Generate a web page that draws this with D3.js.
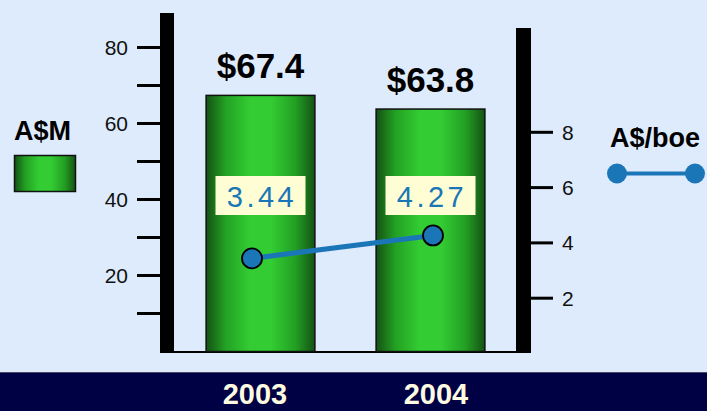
<!DOCTYPE html>
<html>
<head>
<meta charset="utf-8">
<script src="https://cdn.jsdelivr.net/npm/d3@7"></script>
<style>
  html, body { margin: 0; padding: 0; background: #deebfc; }
  svg { display: block; font-family: Arial, "Liberation Sans", Helvetica, sans-serif; }
</style>
</head>
<body>
<svg id="chart" width="707" height="411"></svg>
<script>
// Annual figures
const years = ["2003", "2004"];
const amountAUDm = [67.4, 63.8];          // A$M (bars, left axis)
const perBoe = [3.44, 4.27];              // A$/boe (line, right axis)
const leftTicks = [10, 20, 30, 40, 50, 60, 70, 80];
const leftTickLabels = [20, 40, 60, 80];
const rightTicks = [2, 4, 6, 8];

const svg = d3.select("#chart");
const W = 707, H = 411;

// Scales
const x = d3.scaleBand().domain(years).range([175.5, 515.5]).paddingInner(0.36).paddingOuter(0.18);
const xPt = d3.scalePoint().domain(years).range([252, 433]);
const yL = d3.scaleLinear().domain([0, 80]).range([351.5, 47.5]);
const yR = d3.scaleLinear().domain([0, 8]).range([353.5, 132.3]);

// Background and footer band
svg.append("rect").attr("width", W).attr("height", H).attr("fill", "#deebfc");
svg.append("rect").attr("x", 0).attr("y", 373).attr("width", W).attr("height", H - 373).attr("fill", "#000044");
svg.append("line").attr("x1", 0).attr("x2", W).attr("y1", 372.5).attr("y2", 372.5).attr("stroke", "#4a4a66").attr("stroke-width", 1);

// Bar gradient
const defs = svg.append("defs");
const grad = defs.append("linearGradient").attr("id", "barGrad").attr("x1", "0%").attr("x2", "100%").attr("y1", "0%").attr("y2", "0%");
[["0%", "#145214"], ["18%", "#23a123"], ["40%", "#33cc33"], ["60%", "#33cc33"], ["82%", "#239f23"], ["100%", "#145214"]]
  .forEach(([o, c]) => grad.append("stop").attr("offset", o).attr("stop-color", c));

// Baseline
svg.append("line").attr("x1", 174).attr("x2", 517).attr("y1", 352).attr("y2", 352).attr("stroke", "#000").attr("stroke-width", 2);

// Bars
svg.selectAll("rect.bar").data(years).join("rect")
  .attr("class", "bar")
  .attr("x", d => x(d))
  .attr("width", x.bandwidth())
  .attr("y", (d, i) => yL(amountAUDm[i]))
  .attr("height", (d, i) => yL(0) - yL(amountAUDm[i]))
  .attr("fill", "url(#barGrad)")
  .attr("stroke", "#111")
  .attr("stroke-width", 1.5);

// Bar value labels
svg.selectAll("text.barval").data(years).join("text")
  .attr("class", "barval")
  .attr("x", d => x(d) + x.bandwidth() / 2)
  .attr("y", (d, i) => yL(amountAUDm[i]) - 17.5)
  .attr("text-anchor", "middle")
  .attr("font-size", 35).attr("font-weight", "bold").attr("fill", "#000")
  .text((d, i) => "$" + amountAUDm[i].toFixed(1));

// Left axis: thick spine, ticks, labels
const leftAxis = svg.append("g");
leftAxis.append("rect").attr("x", 160).attr("y", 13).attr("width", 14).attr("height", 340).attr("fill", "#000");
leftAxis.selectAll("line").data(leftTicks).join("line")
  .attr("x1", 137).attr("x2", 160)
  .attr("y1", d => yL(d)).attr("y2", d => yL(d))
  .attr("stroke", "#000").attr("stroke-width", 3);
leftAxis.selectAll("text").data(leftTickLabels).join("text")
  .attr("x", 128).attr("y", d => yL(d) + 7.5)
  .attr("text-anchor", "end").attr("font-size", 21).attr("fill", "#111")
  .text(d => d);

// Right axis
const rightAxis = svg.append("g");
rightAxis.append("rect").attr("x", 516).attr("y", 28).attr("width", 15).attr("height", 325).attr("fill", "#000");
rightAxis.selectAll("line").data(rightTicks).join("line")
  .attr("x1", 531).attr("x2", 553)
  .attr("y1", d => yR(d)).attr("y2", d => yR(d))
  .attr("stroke", "#000").attr("stroke-width", 3);
rightAxis.selectAll("text").data(rightTicks).join("text")
  .attr("x", 562).attr("y", d => yR(d) + 7.5)
  .attr("text-anchor", "start").attr("font-size", 21).attr("fill", "#111")
  .text(d => d);

// Per-boe value labels in boxes
const lblG = svg.selectAll("g.lbl").data(years).join("g").attr("class", "lbl")
  .attr("transform", d => `translate(${x(d) + x.bandwidth() / 2},0)`);
lblG.append("rect").attr("x", -45).attr("y", 176).attr("width", 90).attr("height", 39).attr("fill", "#fffdd4");
lblG.append("text")
  .attr("x", 1.5).attr("y", 206.5)
  .attr("text-anchor", "middle").attr("font-size", 29).attr("letter-spacing", 3.5)
  .attr("fill", "#1b76b8")
  .text((d, i) => perBoe[i].toFixed(2));

// Line series
const line = d3.line().x(d => xPt(d[0])).y(d => yR(d[1]));
const pts = years.map((y, i) => [y, perBoe[i]]);
svg.append("path").datum(pts).attr("d", line)
  .attr("fill", "none").attr("stroke", "#1b76b8").attr("stroke-width", 5);
svg.selectAll("circle.pt").data(pts).join("circle")
  .attr("class", "pt")
  .attr("cx", d => xPt(d[0])).attr("cy", d => yR(d[1]))
  .attr("r", 10).attr("fill", "#1b76b8").attr("stroke", "#000").attr("stroke-width", 1.8);

// Category labels in footer
svg.selectAll("text.year").data(years).join("text")
  .attr("class", "year")
  .attr("x", d => xPt(d) + 3)
  .attr("y", 404)
  .attr("text-anchor", "middle").attr("font-size", 29).attr("font-weight", "bold")
  .attr("fill", "#fffbe0")
  .text(d => d);

// Legends
svg.append("text").attr("x", 14).attr("y", 140).attr("font-size", 27).attr("font-weight", "bold").attr("fill", "#000").text("A$M");
svg.append("rect").attr("x", 14.5).attr("y", 155.5).attr("width", 61).attr("height", 36)
  .attr("fill", "url(#barGrad)").attr("stroke", "#111").attr("stroke-width", 1.5);

svg.append("text").attr("x", 610).attr("y", 147).attr("font-size", 27).attr("font-weight", "bold").attr("fill", "#000").text("A$/boe");
svg.append("line").attr("x1", 617).attr("x2", 695).attr("y1", 173.5).attr("y2", 173.5)
  .attr("stroke", "#1b76b8").attr("stroke-width", 4);
svg.selectAll("circle.leg").data([617, 695]).join("circle")
  .attr("class", "leg").attr("cx", d => d).attr("cy", 173.5).attr("r", 10).attr("fill", "#1b76b8");
</script>
</body>
</html>
